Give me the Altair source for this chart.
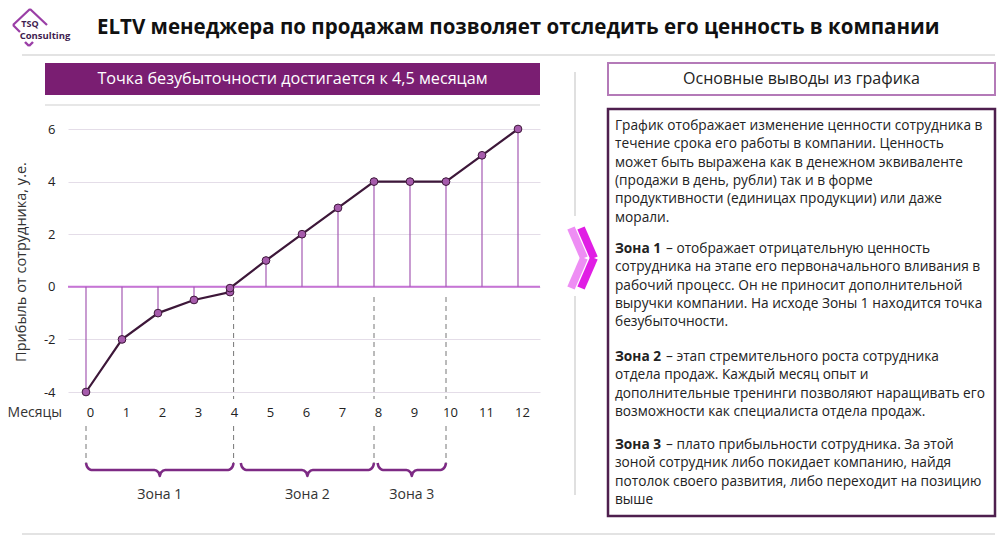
import altair as alt
import pandas as pd

# ---------------- data ----------------
months = [0, 1, 2, 3, 4, 4, 5, 6, 7, 8, 9, 10, 11, 12]
profit = [-4, -2, -1, -0.5, -0.2, -0.05, 1, 2, 3, 4, 4, 4, 5, 6]
month_ticks = list(range(0, 13))
profit_ticks = [-4, -2, 0, 2, 4, 6]

zone_names = ["Зона 1", "Зона 2", "Зона 3"]
zone_start = [0, 4.3, 8.1]
zone_end = [4.1, 8.0, 10.0]
bounds_lower = [0, 4.1, 8, 10]
bounds_upper = [4.1, 8, 10]

title_text = "ELTV менеджера по продажам позволяет отследить его ценность в компании"
banner_text = "Точка безубыточности достигается к 4,5 месяцам"
y_title = "Прибыль от сотрудника, у.е."
x_title = "Месяцы"
panel_title = "Основные выводы из графика"

para1 = ["График отображает изменение ценности сотрудника в",
         "течение срока его работы в компании. Ценность",
         "может быть выражена как в денежном эквиваленте",
         "(продажи в день, рубли) так и в форме",
         "продуктивности (единицах продукции) или даже",
         "морали."]
zone_first = ["– отображает отрицательную ценность",
              "– этап стремительного роста сотрудника",
              "– плато прибыльности сотрудника. За этой"]
zone_rest = [["сотрудника на этапе его первоначального вливания в",
              "рабочий процесс. Он не приносит дополнительной",
              "выручки компании. На исходе Зоны 1 находится точка",
              "безубыточности."],
             ["отдела продаж. Каждый месяц опыт и",
              "дополнительные тренинги позволяют наращивать его",
              "возможности как специалиста отдела продаж."],
             ["зоной сотрудник либо покидает компанию, найдя",
              "потолок своего развития, либо переходит на позицию",
              "выше"]]

# ---------------- layout / style ----------------
FONT = "Open Sans"
W, H = 472, 263
X_DOM = [-0.5, -0.5 + W / 36.0]
Y_DOM = [-4, 6]
PX_PER_UNIT = H / (Y_DOM[1] - Y_DOM[0])


def ydata(py):
    return Y_DOM[1] - py / PX_PER_UNIT


XS = alt.Scale(domain=X_DOM, nice=False, zero=False)
YS = alt.Scale(domain=Y_DOM, nice=False, zero=False)
X_AX = alt.Axis(values=month_ticks, format="d", grid=False, domain=False, ticks=False,
                labelPadding=14, labelOffset=4, labelFontSize=13, labelColor="#222",
                labelFont=FONT, title=None, labelFlush=False)
Y_AX = alt.Axis(values=profit_ticks, grid=True, gridColor="#e4dde8", gridWidth=1,
                domain=False, ticks=False, labelPadding=13, labelFontSize=13,
                labelColor="#222", labelFont=FONT, title=None,
                labelExpr="'' + datum.value")

series = pd.DataFrame({"m": months, "v": profit, "i": list(range(len(months))),
                       "z": [0] * len(months)})
one = pd.DataFrame({"d": [0]})

X = lambda: alt.X("m:Q", scale=XS, axis=X_AX)
Y = lambda f="v:Q": alt.Y(f, scale=YS, axis=Y_AX)

layers = []

# zero line
layers.append(alt.Chart(pd.DataFrame({"v": [0]})).mark_rule(color="#c774d6", strokeWidth=2)
              .encode(y=Y(), x=alt.value(0), x2=alt.value(W)))
# stems
layers.append(alt.Chart(series).mark_rule(color="#a459b3", strokeWidth=1.2)
              .encode(x=X(), y=Y(), y2="z:Q"))
# dashed zone boundaries
layers.append(alt.Chart(pd.DataFrame({"m": bounds_upper})).mark_rule(color="#777", strokeWidth=1, strokeDash=[5, 4])
              .encode(x=X(), y=alt.value(168), y2=alt.value(270)))
layers.append(alt.Chart(pd.DataFrame({"m": bounds_lower})).mark_rule(color="#777", strokeWidth=1, strokeDash=[5, 4])
              .encode(x=X(), y=alt.value(297), y2=alt.value(334)))
# line + points
layers.append(alt.Chart(series).mark_line(color="#3d1739", strokeWidth=2.2)
              .encode(x=X(), y=Y(), order="i:Q"))
layers.append(alt.Chart(series).mark_circle(size=60, fill="#a65bac", stroke="#3d1739", strokeWidth=1, opacity=1)
              .encode(x=X(), y=Y()))

# braces
brace_rows = []
top, mid, tip = ydata(334), ydata(341), ydata(347)
for k, (s, e) in enumerate(zip(zone_start, zone_end)):
    c = (s + e) / 2
    pts = [(s, top), (s + 0.03, mid + 0.12), (s + 0.15, mid), (c - 0.15, mid), (c - 0.03, mid - 0.1),
           (c, tip), (c + 0.03, mid - 0.1), (c + 0.15, mid), (e - 0.15, mid), (e - 0.03, mid + 0.12), (e, top)]
    for j, (mm, vv) in enumerate(pts):
        brace_rows.append({"zone": zone_names[k], "m": mm, "v": vv, "i": j})
braces = pd.DataFrame(brace_rows)
layers.append(alt.Chart(braces).mark_line(color="#7d2a84", strokeWidth=2.6, interpolate="monotone")
              .encode(x=X(), y=Y(), detail="zone:N", order="i:Q"))
# zone labels
zl = pd.DataFrame({"m": [(s + e) / 2 for s, e in zip(zone_start, zone_end)], "t": zone_names})
layers.append(alt.Chart(zl).mark_text(font=FONT, fontSize=14, color="#333", baseline="middle")
              .encode(x=X(), y=alt.value(366), text="t:N"))


def txt(s, x, y, size=13, weight="normal", color="#222", align="left", baseline="middle", angle=0, **kw):
    props = dict(font=FONT, fontSize=size, fontWeight=weight, color=color, align=align, baseline=baseline, **kw)
    if angle:
        props["angle"] = angle
    return alt.Chart(one).mark_text(**props).encode(x=alt.value(x), y=alt.value(y), text=alt.value(s))


def rule(x, x2, y, y2, color, width, **kw):
    return alt.Chart(one).mark_rule(color=color, strokeWidth=width, **kw).encode(
        x=alt.value(x), x2=alt.value(x2), y=alt.value(y), y2=alt.value(y2))


def rect(x, x2, y, y2, fill, stroke=None, width=0):
    kw = dict(fill=fill)
    if stroke:
        kw.update(stroke=stroke, strokeWidth=width)
    return alt.Chart(one).mark_rect(**kw).encode(
        x=alt.value(x), x2=alt.value(x2), y=alt.value(y), y2=alt.value(y2))


# axis titles
layers.append(txt(y_title, -46, 133, size=14.5, color="#333", align="center", angle=270))
layers.append(txt(x_title, -6, 284, size=14, color="#333", align="right"))

# header elements
layers.append(txt(title_text, 29, -101, size=20.5, weight="bold", color="#111"))
layers.append(rule(-46, 927, -74, -74, "#c8c8c8", 1.2))
layers.append(rect(-23, 472, -66, -34, "#7a1e72"))
layers.append(txt(banner_text, 224.5, -50, size=16.2, color="#ffffff", align="center"))
layers.append(rule(-23, 472, -24, -24, "#cfcfcf", 1.2))
layers.append(rule(-46, 927, 405, 405, "#c8c8c8", 1.2))

# logo
LC = "#9a3ea6"
layers.append(rule(-38, -55, -120, -104, LC, 2.2))
layers.append(rule(-38, -21, -120, -104, LC, 2.2))
layers.append(rule(-55, -48, -104, -97, LC, 2.2))
layers.append(rule(-43, -39, -87, -83, LC, 2.4))
layers.append(rule(-39, -35, -83, -87, LC, 2.4))
layers.append(txt("TSQ", -38, -105, size=9, weight="bold", color="#3f1d4f", align="center"))
layers.append(txt("Consulting", -23, -93, size=9.5, weight="bold", color="#3f1d4f", align="center"))

# separator + chevrons
layers.append(rule(507, 507, -57, 87, "#cccccc", 1.2))
layers.append(rule(507, 507, 167, 366, "#cccccc", 1.2))
layers.append(rule(503, 516, 99, 129, "#ee8ef4", 8, strokeCap="butt"))
layers.append(rule(516, 503, 129, 159, "#ee8ef4", 8, strokeCap="butt"))
layers.append(rule(513, 526, 99, 129, "#e01ee4", 8, strokeCap="butt"))
layers.append(rule(526, 513, 129, 159, "#e01ee4", 8, strokeCap="butt"))

# right panel
layers.append(rect(540, 927, -66, -34, "#ffffff", "#b47ab8", 2))
layers.append(txt(panel_title, 733.5, -50, size=16, color="#222", align="center"))
layers.append(rect(540, 927, -20, 387, "#ffffff", "#4e1f4e", 2.5))

LH = 18.3
TX = 547
FS = 13.7
layers.append(txt("\n".join(para1), TX, -4 + 5, size=FS, baseline="alphabetic",
                  lineBreak="\n", lineHeight=LH))
para_y = [119, 227, 315]
for k in range(3):
    y0 = para_y[k]
    layers.append(txt(zone_names[k], TX, y0 + 5, size=FS, weight="bold", color="#222", baseline="alphabetic"))
    layers.append(txt(zone_first[k], 598, y0 + 5, size=FS, baseline="alphabetic"))
    layers.append(txt("\n".join(zone_rest[k]), TX, y0 + LH + 5, size=FS, baseline="alphabetic",
                      lineBreak="\n", lineHeight=LH))

chart = alt.layer(*layers).properties(
    width=W, height=H,
    padding={"left": 60, "top": 121, "right": 459, "bottom": 146},
    autosize=alt.AutoSizeParams(type="none"),
    background="#ffffff",
).configure_view(stroke=None)

chart.save("out.html", embed_options={"renderer": "svg", "actions": False})
